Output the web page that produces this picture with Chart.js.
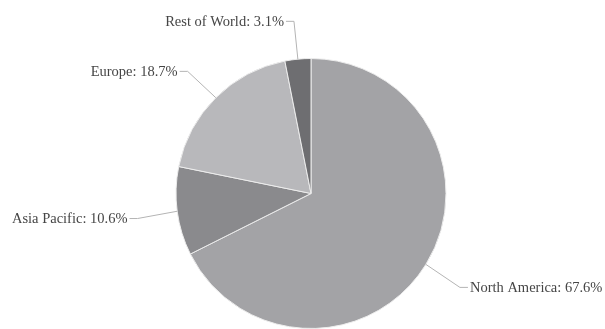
<!DOCTYPE html>
<html>
<head>
<meta charset="utf-8">
<script src="https://cdn.jsdelivr.net/npm/chart.js@4"></script>
<style>
  html, body { margin: 0; padding: 0; background: #fff; }
  #wrap { width: 605px; height: 329px; position: relative; }
</style>
</head>
<body>
<div id="wrap"><canvas id="regionPie"></canvas></div>
<script>
var regions = ['North America', 'Asia Pacific', 'Europe', 'Rest of World'];
var shares = [67.6, 10.6, 18.7, 3.1];
var sliceColors = ['#a3a3a6', '#8a8a8d', '#b8b8bb', '#6e6e71'];

// draws the "Name: xx.x%" labels with elbow leader lines
var leaderLabels = {
    id: 'leaderLabels',
    afterDatasetsDraw: function (chart) {
        var ctx = chart.ctx;
        var meta = chart.getDatasetMeta(0);
        ctx.save();
        ctx.font = '14.5px "Liberation Serif", "Times New Roman", serif';
        ctx.textBaseline = 'middle';
        ctx.strokeStyle = '#b4b4b4';
        ctx.lineWidth = 1;
        ctx.fillStyle = '#454545';
        meta.data.forEach(function (arc, i) {
            var p = arc.getProps(['x', 'y', 'startAngle', 'endAngle', 'outerRadius'], true);
            var mid = (p.startAngle + p.endAngle) / 2;
            var ex = p.x + Math.cos(mid) * p.outerRadius;
            var ey = p.y + Math.sin(mid) * p.outerRadius;
            var bx = p.x + Math.cos(mid) * (p.outerRadius + 40);
            var by = p.y + Math.sin(mid) * (p.outerRadius + 40) + 2;
            var right = Math.cos(mid) >= 0;
            var hx = right ? bx + 8 : bx - 8;
            ctx.beginPath();
            ctx.moveTo(ex, ey);
            ctx.lineTo(bx, by);
            ctx.lineTo(hx, by);
            ctx.stroke();
            ctx.textAlign = right ? 'left' : 'right';
            ctx.fillText(regions[i] + ': ' + shares[i].toFixed(1) + '%', right ? hx + 2 : hx - 2, by + 1);
        });
        ctx.restore();
    }
};

var chart = new Chart(document.querySelector('#regionPie'), {
    type: 'pie',
    data: {
        labels: regions,
        datasets: [{
            data: shares,
            backgroundColor: sliceColors,
            borderColor: '#ececec',
            borderWidth: 1
        }]
    },
    options: {
        responsive: true,
        maintainAspectRatio: false,
        animation: false,
        layout: {
            padding: { left: 174, right: 157, top: 58, bottom: -3 }
        },
        plugins: {
            legend: { display: false },
            tooltip: { enabled: false }
        }
    },
    plugins: [leaderLabels]
});
</script>
</body>
</html>
